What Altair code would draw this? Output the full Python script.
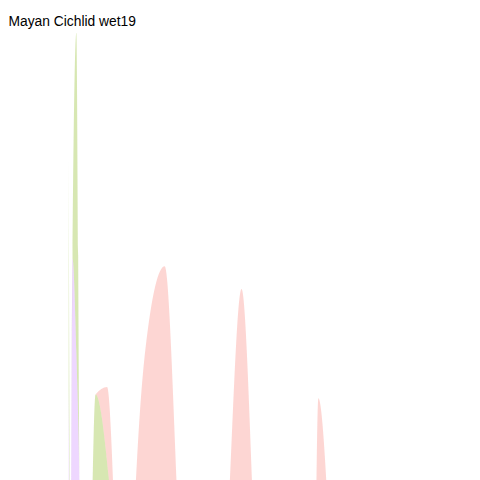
import altair as alt
import pandas as pd

names = ["Epiphytic microalgae", "Red Mangrove", "Seagrass", "SPOM"]
colors = ["#F8766D", "#7CAE00", "#00BFC4", "#C77CFF"]

epi_x = [0.0, 0.05, 0.1, 0.15, 0.2, 0.25, 0.3, 0.36, 0.4, 0.45, 0.5, 0.55, 0.6, 0.65, 0.7, 0.75, 0.8, 0.85, 0.9, 0.95, 1.0]
epi_y = [0.0, 0.08, 0.2, 0.38, 0.6, 0.82, 0.95, 1.0, 0.97, 0.92, 0.89, 0.87, 0.85, 0.83, 0.8, 0.76, 0.7, 0.63, 0.53, 0.42, 0.2]

man_x = [0.0, 0.02, 0.04, 0.07, 0.1, 0.13, 0.16, 0.2, 0.25, 0.32, 0.38, 0.45, 0.52, 0.57, 0.65, 0.72, 0.78, 0.83, 0.9, 0.95, 1.0]
man_y = [0.62, 0.85, 0.96, 1.0, 0.97, 0.92, 0.91, 0.94, 0.98, 0.97, 0.95, 0.9, 0.84, 0.8, 0.7, 0.6, 0.45, 0.3, 0.15, 0.07, 0.02]

sea_x = [0.0, 0.005, 0.01, 0.02, 0.03, 0.04, 0.05, 0.07, 0.1, 0.13, 0.16, 0.2, 0.4, 0.63]
sea_y = [0.95, 1.0, 0.9, 0.7, 0.4, 0.2, 0.1, 0.06, 0.04, 0.02, 0.005, 0.002, 0.001, 0.0]

spom_x = [0.0, 0.01, 0.02, 0.03, 0.05, 0.07, 0.1, 0.15, 0.2, 0.25, 0.3, 0.35, 0.4, 0.5, 0.6, 0.8, 1.0]
spom_y = [0.6, 1.0, 0.95, 0.8, 0.6, 0.48, 0.35, 0.2, 0.12, 0.08, 0.05, 0.04, 0.02, 0.005, 0.002, 0.0, 0.0]

rows = []
for name, xs, ys in [(names[0], epi_x, epi_y), (names[1], man_x, man_y),
                     (names[2], sea_x, sea_y), (names[3], spom_x, spom_y)]:
    for x, y in zip(xs, ys):
        rows.append({"source": name, "x": x, "y": y})
df = pd.DataFrame(rows)

x_enc = alt.X("x:Q", title="Proportion of Diet",
              scale=alt.Scale(domain=[-0.05, 1.05], nice=False),
              axis=alt.Axis(values=[0, 0.25, 0.5, 0.75, 1.0], format=".2f"))
y_enc = alt.Y("y:Q", title="Scaled Posterior Density",
              scale=alt.Scale(domain=[-0.05, 1.05], nice=False),
              axis=alt.Axis(values=[0, 0.25, 0.5, 0.75, 1.0], format=".2f"))
col = alt.Color("source:N", scale=alt.Scale(domain=names, range=colors),
                legend=alt.Legend(title=None, orient="top-right", offset=4,
                                  symbolType="square", symbolSize=220, symbolOpacity=0.3,
                                  symbolStrokeWidth=1.5, labelFontSize=10, fillColor="white",
                                  padding=6, rowPadding=6))

base = alt.Chart(df)
area = base.mark_area(opacity=0.3, interpolate="monotone").encode(x_enc, y_enc, col, detail="source:N")
line = base.mark_line(strokeWidth=1, interpolate="monotone").encode(x_enc, y_enc, col, detail="source:N")

chart = (area + line).properties(
    width=428, height=420, padding={"left": 0, "top": 0, "right": 0, "bottom": 0},
    title=alt.Title("Mayan Cichlid wet19", anchor="start", fontSize=14, fontWeight="normal", offset=4),
).configure_axis(
    gridColor="#ebebeb", domain=False, tickColor="#333", labelColor="#4d4d4d",
    labelFontSize=9, titleFontSize=11, titleFontWeight="normal", labelFont="Liberation Sans",
    titleFont="Liberation Sans",
).configure_view(stroke="#333", strokeWidth=1.2).configure(font="Liberation Sans")

chart.save("out.html", embed_options={"renderer": "svg", "actions": False})
